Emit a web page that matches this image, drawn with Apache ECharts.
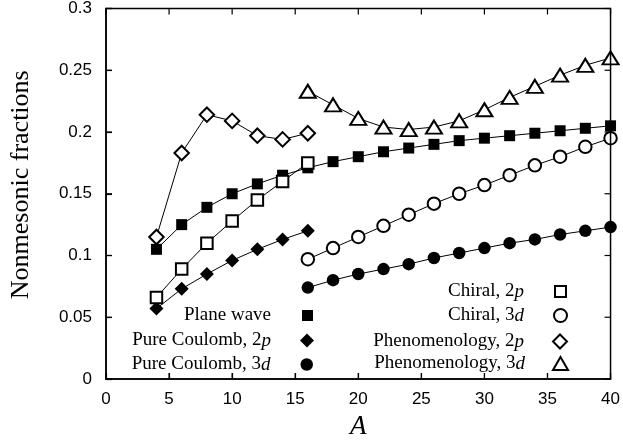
<!DOCTYPE html>
<html><head><meta charset="utf-8">
<script src="https://cdn.jsdelivr.net/npm/echarts@6/dist/echarts.min.js"></script>
<style>html,body{margin:0;padding:0;background:#fff}#c{width:623px;height:445px}</style>
</head><body><div id="c"></div>
<script>
// ---- data ----
const A_all   = [4,6,8,10,12,14,16,18,20,22,24,26,28,30,32,34,36,38,40];
const A_light = [4,6,8,10,12,14,16];
const A_heavy = [16,18,20,22,24,26,28,30,32,34,36,38,40];

const planeWave     = [0.105,0.125,0.139,0.150,0.158,0.165,0.171,0.176,0.180,0.184,0.187,0.190,0.193,0.195,0.197,0.199,0.201,0.203,0.205];
const pureCoulomb2p = [0.057,0.073,0.085,0.096,0.105,0.113,0.120];
const pureCoulomb3d = [0.074,0.080,0.085,0.089,0.093,0.098,0.102,0.106,0.110,0.113,0.117,0.120,0.123];
const chiral2p      = [0.066,0.089,0.110,0.128,0.145,0.160,0.175];
const chiral3d      = [0.097,0.106,0.115,0.124,0.133,0.142,0.150,0.157,0.165,0.173,0.180,0.188,0.195];
const phen2p        = [0.115,0.183,0.214,0.209,0.197,0.194,0.199];
const phen3d        = [0.233,0.222,0.211,0.204,0.202,0.204,0.209,0.218,0.228,0.237,0.246,0.254,0.260];

const xTickValues = [0,5,10,15,20,25,30,35,40];
const yTickValues = [0,0.05,0.1,0.15,0.2,0.25,0.3];

const seriesNames = ['Plane wave','Pure Coulomb, 2p','Pure Coulomb, 3d','Chiral, 2p','Chiral, 3d','Phenomenology, 2p','Phenomenology, 3d'];
const legendLabels = ['Plane wave','Pure Coulomb, 2{i|p}','Pure Coulomb, 3{i|d}','Chiral, 2{i|p}','Chiral, 3{i|d}','Phenomenology, 2{i|p}','Phenomenology, 3{i|d}'];

const zip = (xs, ys) => xs.map((x, i) => [x, ys[i]]);

const SERIF = 'Liberation Serif, Times New Roman, serif';
const SANS = 'Liberation Sans, Arial, sans-serif';

function ser(name, xs, ys, symbol, size, empty) {
  return {
    name, type: 'line', data: zip(xs, ys),
    symbol, symbolSize: size, showSymbol: true,
    lineStyle: { color: '#000', width: 1 },
    itemStyle: { color: '#000', borderColor: '#000', borderWidth: empty ? 1.8 : 0 },
    emphasis: { disabled: true },
    animation: false, z: 3
  };
}

const series = [
  ser(seriesNames[0], A_all, planeWave, 'rect', 11, false),
  ser(seriesNames[1], A_light, pureCoulomb2p, 'diamond', 14, false),
  ser(seriesNames[2], A_heavy, pureCoulomb3d, 'circle', 12.5, false),
  ser(seriesNames[3], A_light, chiral2p, 'emptyRect', 11.5, true),
  ser(seriesNames[4], A_heavy, chiral3d, 'emptyCircle', 12.5, true),
  ser(seriesNames[5], A_light, phen2p, 'emptyDiamond', 14.5, true),
  ser(seriesNames[6], A_heavy, phen3d, 'emptyTriangle', [16, 13], true)
];

function leg(i, right, top, icon, w, h, pad) {
  return {
    data: [seriesNames[i]], right, top, orient: 'vertical', align: 'right',
    icon, itemWidth: w, itemHeight: h, padding: 0, selectedMode: false,
    formatter: () => legendLabels[i],
    textStyle: {
      fontFamily: SERIF, fontSize: 19, color: '#000', padding: [0, pad, 0, 0],
      rich: { i: { fontFamily: SERIF, fontSize: 19, fontStyle: 'italic', color: '#000' } }
    }
  };
}

const legends = [
  leg(0, 310, 306, 'rect', 11, 11, 26),
  leg(1, 309, 331, 'diamond', 14, 14, 24),
  leg(2, 310, 355, 'circle', 12.5, 12.5, 25),
  leg(3, 56, 282, 'emptyRect', 11, 11, 26),
  leg(4, 55, 306, 'emptyCircle', 13, 13, 25),
  leg(5, 55, 332, 'emptyDiamond', 14, 14, 24),
  leg(6, 54, 354, 'emptyTriangle', 15, 13, 23)
];

const option = {
  backgroundColor: '#fff',
  animation: false,
  grid: { left: 106, right: 11, top: 8, bottom: 65, containLabel: false },
  legend: legends,
  xAxis: {
    type: 'value', min: 0, max: 40, interval: 5, position: 'bottom',
    name: 'A', nameLocation: 'middle', nameGap: 34, nameMoveOverlap: false,
    nameTextStyle: { fontFamily: SERIF, fontStyle: 'italic', fontSize: 27, color: '#000' },
    axisLine: { show: true, onZero: false, lineStyle: { color: '#000', width: 1.5 } },
    axisTick: { show: true, inside: true, length: 6, lineStyle: { color: '#000', width: 1.2 } },
    splitLine: { show: false },
    axisLabel: { fontFamily: SANS, fontSize: 17, color: '#000', margin: 12 }
  },
  yAxis: {
    type: 'value', min: 0, max: 0.3, interval: 0.05, position: 'left',
    name: 'Nonmesonic fractions', nameLocation: 'middle', nameGap: 72, nameMoveOverlap: false,
    nameTextStyle: { fontFamily: SERIF, fontSize: 26, color: '#000', padding: [0, 0, 0, 18] },
    axisLine: { show: true, onZero: false, lineStyle: { color: '#000', width: 1.5 } },
    axisTick: { show: true, inside: true, length: 6, lineStyle: { color: '#000', width: 1.2 } },
    splitLine: { show: false },
    axisLabel: { fontFamily: SANS, fontSize: 17, color: '#000', margin: 14 }
  },
  series
};

const chart = echarts.init(document.getElementById('c'), null, { renderer: 'canvas' });
chart.setOption(option);

// Frame and mirrored ticks, positioned through the chart's own scales
const p0 = chart.convertToPixel({ gridIndex: 0 }, [0, 0]);
const p1 = chart.convertToPixel({ gridIndex: 0 }, [40, 0.3]);
const frame = [{
  type: 'rect', z: 10, silent: true,
  shape: { x: p0[0], y: p1[1], width: p1[0] - p0[0], height: p0[1] - p1[1] },
  style: { fill: 'none', stroke: '#000', lineWidth: 1.5 }
}];
const T = 6;
xTickValues.forEach(v => {
  const x = chart.convertToPixel({ xAxisIndex: 0 }, v);
  frame.push({ type: 'line', z: 10, silent: true, shape: { x1: x, y1: p0[1], x2: x, y2: p0[1] - T }, style: { stroke: '#000', lineWidth: 1.2 } });
  frame.push({ type: 'line', z: 10, silent: true, shape: { x1: x, y1: p1[1], x2: x, y2: p1[1] + T }, style: { stroke: '#000', lineWidth: 1.2 } });
});
yTickValues.forEach(v => {
  const y = chart.convertToPixel({ yAxisIndex: 0 }, v);
  frame.push({ type: 'line', z: 10, silent: true, shape: { x1: p0[0], y1: y, x2: p0[0] + T, y2: y }, style: { stroke: '#000', lineWidth: 1.2 } });
  frame.push({ type: 'line', z: 10, silent: true, shape: { x1: p1[0], y1: y, x2: p1[0] - T, y2: y }, style: { stroke: '#000', lineWidth: 1.2 } });
});
chart.setOption({ graphic: frame });
</script></body></html>
